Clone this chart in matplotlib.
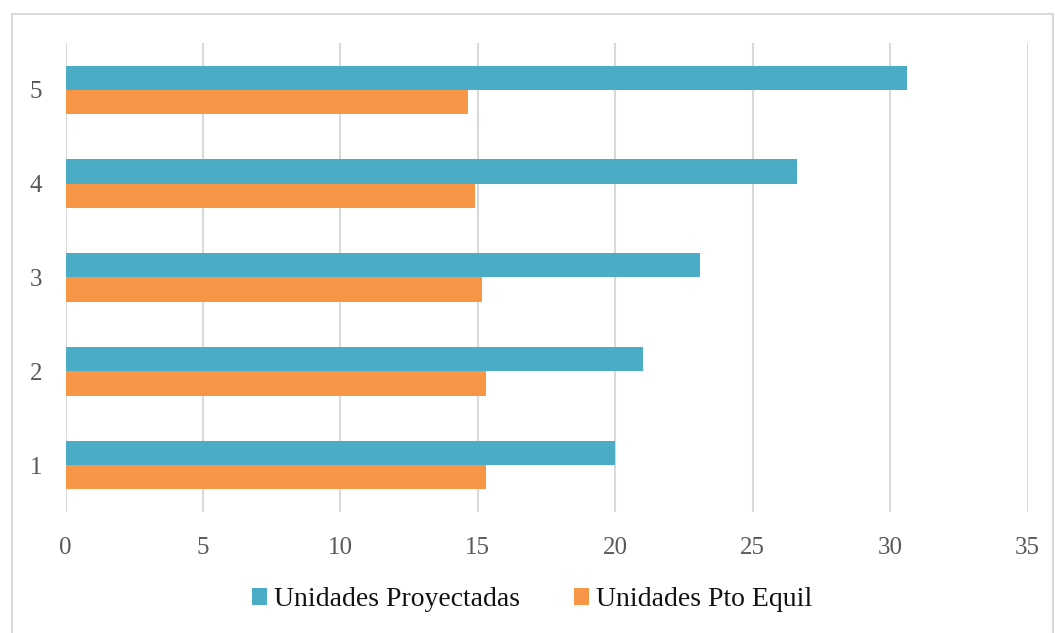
import matplotlib
matplotlib.use("Agg")
import matplotlib.pyplot as plt
from matplotlib.patches import Rectangle
import numpy as np

categories = ["1", "2", "3", "4", "5"]
proyectadas = [20.0, 21.0, 23.1, 26.6, 30.6]
pto_equil = [15.3, 15.3, 15.15, 14.9, 14.65]
x_ticks = [0, 5, 10, 15, 20, 25, 30, 35]

blue = "#4BACC6"
orange = "#F79646"
grid_c = "#D9D9D9"
tick_c = "#595959"

plt.rcParams["font.family"] = ["Liberation Serif", "DejaVu Serif"]

W, H = 1055, 633
fig = plt.figure(figsize=(W / 100, H / 100), dpi=100)

# outer chart border
fig.patches.append(Rectangle((12 / W, -0.05), (1053 - 12) / W, 1.05 - 14 / H,
                             transform=fig.transFigure, fill=False,
                             edgecolor=grid_c, linewidth=1.5))

ax = fig.add_axes([65.5 / W, 1 - 512 / H, (1027.5 - 65.5) / W, (512 - 43) / H])

y = np.arange(1, len(categories) + 1)
h = 0.26
ax.barh(y + h / 2, proyectadas, height=h, color=blue, label="Unidades Proyectadas", zorder=3)
ax.barh(y - h / 2, pto_equil, height=h, color=orange, label="Unidades Pto Equil", zorder=3)

ax.set_xlim(0, 35)
ax.set_ylim(0.5, len(categories) + 0.5)
ax.set_xticks(x_ticks)
ax.set_xticklabels([str(t) for t in x_ticks])
ax.set_yticks(y)
ax.set_yticklabels(categories)
ax.xaxis.grid(True, color=grid_c, linewidth=1.5, zorder=0)
ax.tick_params(axis="both", length=0, labelsize=18, colors=tick_c)
ax.tick_params(axis="x", pad=18)
ax.tick_params(axis="y", pad=17)
for s in ax.spines.values():
    s.set_visible(False)

leg = fig.legend(loc="center", bbox_to_anchor=(532 / W, 1 - 600 / H), ncol=2,
                 frameon=False, fontsize=20, handlelength=0.55, handleheight=0.55,
                 handletextpad=0.25, columnspacing=1.95)
for t in leg.get_texts():
    t.set_color("#111111")

fig.savefig("out.png", dpi=100)
